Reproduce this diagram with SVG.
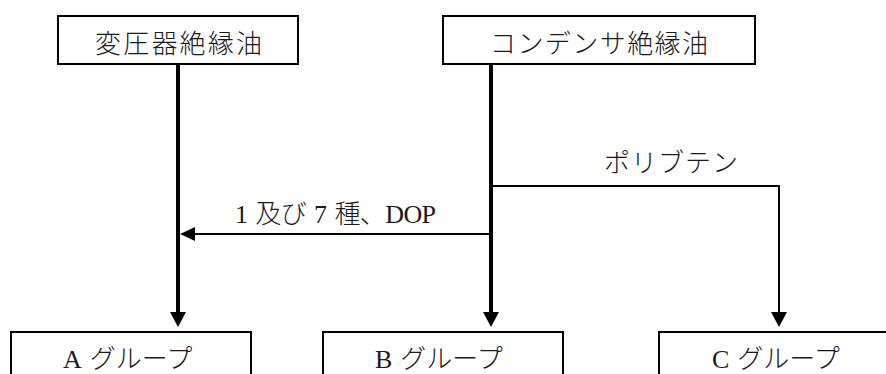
<svg xmlns="http://www.w3.org/2000/svg" width="886" height="374" viewBox="0 0 886 374">
  <style>
    .box { fill: #ffffff; stroke: #000000; stroke-width: 2; }
    .lbl { font-family: "Liberation Serif", "Noto Sans CJK JP", serif; font-size: 26px; font-weight: 300; fill: #1a1a1a; }
    .thick { fill: none; stroke: #000000; stroke-width: 4; }
    .thin { fill: none; stroke: #000000; stroke-width: 2; }
  </style>
  <defs>
    <marker id="arrow" markerUnits="userSpaceOnUse" markerWidth="16" markerHeight="16" refX="0" refY="8" orient="auto">
      <path d="M0,0 L15,8 L0,16 z" fill="#000000"/>
    </marker>
    <marker id="arrowS" markerUnits="userSpaceOnUse" markerWidth="16" markerHeight="14" refX="0" refY="7" orient="auto">
      <path d="M0,0 L15,7 L0,14 z" fill="#000000"/>
    </marker>
  </defs>
  <rect width="886" height="374" fill="#ffffff"/>

  <g id="connectors">
    <line class="thick" x1="178" y1="64" x2="178" y2="312" marker-end="url(#arrow)"/>
    <line class="thick" x1="491" y1="64" x2="491" y2="312" marker-end="url(#arrow)"/>
    <line class="thin" x1="491" y1="234" x2="195" y2="234" marker-end="url(#arrowS)"/>
    <path class="thin" d="M491,186 H779 V312" marker-end="url(#arrow)"/>
    <text class="lbl" x="604" y="172" textLength="134" lengthAdjust="spacing">ポリブテン</text>
    <text class="lbl" x="235" y="223" textLength="201" lengthAdjust="spacing">1<tspan dx="8">及び</tspan><tspan dx="8">7</tspan><tspan dx="8">種、DOP</tspan></text>
  </g>

  <g id="node-transformer-oil">
    <rect class="box" x="58" y="16" width="240" height="48"/>
    <text class="lbl" x="95" y="53" textLength="167" lengthAdjust="spacing">変圧器絶縁油</text>
  </g>

  <g id="node-condenser-oil">
    <rect class="box" x="443" y="16" width="312" height="48"/>
    <text class="lbl" x="490" y="53" textLength="218" lengthAdjust="spacing">コンデンサ絶縁油</text>
  </g>

  <g id="node-group-a">
    <rect class="box" x="11" y="332" width="240" height="60"/>
    <text class="lbl" x="63" y="368">A<tspan dx="8">グループ</tspan></text>
  </g>

  <g id="node-group-b">
    <rect class="box" x="323" y="332" width="240" height="60"/>
    <text class="lbl" x="375" y="368">B<tspan dx="8">グループ</tspan></text>
  </g>

  <g id="node-group-c">
    <rect class="box" x="659" y="332" width="240" height="60"/>
    <text class="lbl" x="712" y="368">C<tspan dx="8">グループ</tspan></text>
  </g>
</svg>
